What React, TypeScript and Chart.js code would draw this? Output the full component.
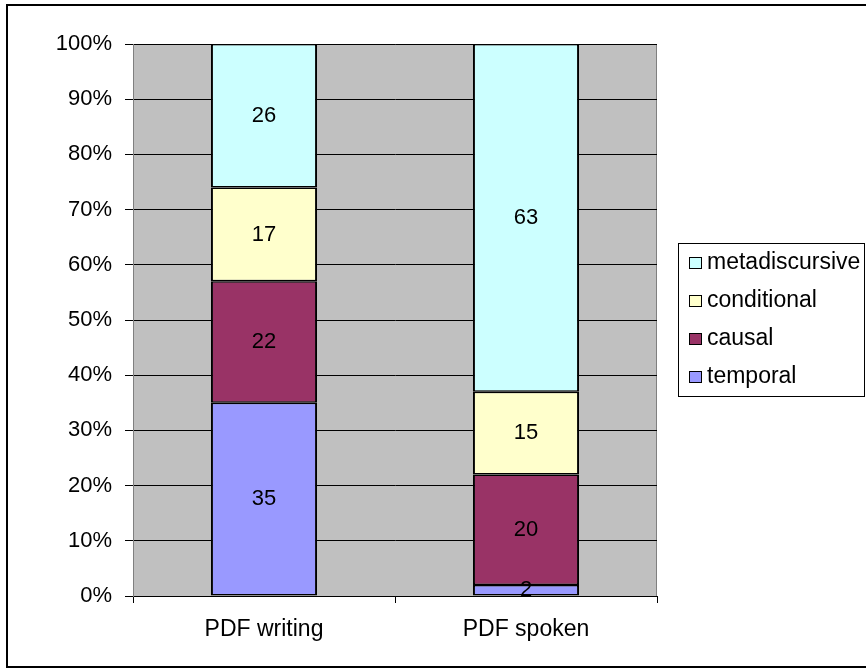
import React, { useEffect, useRef } from 'react';
import { Chart, registerables } from 'chart.js';

Chart.register(...registerables);

const categories = ['PDF writing', 'PDF spoken'];
const seriesNames = ['temporal', 'causal', 'conditional', 'metadiscursive'];
const temporal = [35, 2];
const causal = [22, 20];
const conditional = [17, 15];
const metadiscursive = [26, 63];
const seriesValues = [temporal, causal, conditional, metadiscursive];
const seriesColors = ['#9999FF', '#993366', '#FFFFCC', '#CCFFFF'];
const yMin = 0;
const yMax = 100;
const yStep = 10;

const FONT = '"Liberation Sans", Arial, sans-serif';
const FS = 22;
const FS_BIG = 23;

const framePlugin = {
  id: 'framePlugin',
  beforeDraw(chart: any) {
    const ctx = chart.ctx;
    const a = chart.chartArea;
    ctx.save();
    ctx.fillStyle = '#FFFFFF';
    ctx.fillRect(0, 0, chart.width, chart.height);
    ctx.fillStyle = '#C0C0C0';
    ctx.fillRect(a.left, a.top, a.right - a.left, a.bottom - a.top);
    ctx.strokeStyle = '#808080';
    ctx.lineWidth = 1;
    ctx.strokeRect(a.left + 0.5, a.top + 0.5, a.right - a.left - 1, a.bottom - a.top);
    ctx.strokeStyle = '#000000';
    ctx.lineWidth = 2;
    ctx.strokeRect(7, 5, 900, 662);
    ctx.restore();
  },
};

const labelPlugin = {
  id: 'labelPlugin',
  afterDatasetsDraw(chart: any) {
    const ctx = chart.ctx;
    ctx.save();
    ctx.font = `${FS}px ${FONT}`;
    ctx.fillStyle = '#000000';
    ctx.textAlign = 'center';
    ctx.textBaseline = 'middle';
    chart.data.datasets.forEach((ds: any, i: number) => {
      const meta = chart.getDatasetMeta(i);
      meta.data.forEach((el: any, j: number) => {
        const v = ds.data[j];
        const cy = (el.y + el.base) / 2;
        ctx.fillText(String(v), el.x, cy);
      });
    });
    ctx.restore();
  },
};

const legendPlugin = {
  id: 'legendPlugin',
  afterDraw(chart: any) {
    const ctx = chart.ctx;
    ctx.save();
    const bx = 678.5, by = 243.5, bw = 186, bh = 153;
    ctx.fillStyle = '#FFFFFF';
    ctx.fillRect(bx, by, bw, bh);
    ctx.strokeStyle = '#000000';
    ctx.lineWidth = 1;
    ctx.strokeRect(bx, by, bw, bh);
    ctx.font = `${FS_BIG}px ${FONT}`;
    ctx.textAlign = 'left';
    ctx.textBaseline = 'alphabetic';
    const ds = chart.data.datasets;
    const n = ds.length;
    for (let k = 0; k < n; k++) {
      const d = ds[n - 1 - k];
      const cy = 263 + k * 38;
      ctx.fillStyle = d.backgroundColor;
      ctx.fillRect(689, cy - 5.5, 12, 11);
      ctx.strokeStyle = '#000000';
      ctx.strokeRect(689.5, cy - 5.5, 12, 11);
      ctx.fillStyle = '#000000';
      ctx.fillText(d.label, 707, cy + 6);
    }
    ctx.restore();
  },
};

export default function App() {
  const ref = useRef<HTMLCanvasElement | null>(null);
  useEffect(() => {
    if (!ref.current) return;
    const chart = new Chart(ref.current, {
      type: 'bar',
      data: {
        labels: categories,
        datasets: seriesNames.map((name, i) => ({
          label: name,
          data: seriesValues[i],
          backgroundColor: seriesColors[i],
          borderColor: '#000000',
          borderWidth: { top: 1.5, bottom: 1.5, left: 2, right: 2 },
          borderSkipped: false,
          inflateAmount: 0,
          categoryPercentage: 1,
          barPercentage: 0.405,
        })),
      },
      options: {
        responsive: false,
        animation: false,
        devicePixelRatio: 1,
        layout: { padding: { left: 0, top: 44, right: 209, bottom: 0 } },
        plugins: {
          legend: { display: false },
          tooltip: { enabled: false },
        },
        scales: {
          x: {
            stacked: true,
            afterFit: (s: any) => { s.height = 73; },
            grid: { offset: true, drawOnChartArea: false, drawTicks: true, tickLength: 7, color: '#000000' },
            border: { display: true, color: '#000000' },
            ticks: { color: '#000000', font: { family: FONT, size: FS_BIG }, padding: 13 },
          },
          y: {
            stacked: true,
            min: yMin,
            max: yMax,
            afterFit: (s: any) => { s.width = 133; },
            grid: { color: '#000000', tickLength: 8, drawTicks: true },
            border: { display: true, color: '#808080' },
            ticks: {
              stepSize: yStep,
              color: '#000000',
              font: { family: FONT, size: FS },
              padding: 13,
              callback: (v: any) => `${v}%`,
            },
          },
        },
      },
      plugins: [framePlugin, labelPlugin, legendPlugin],
    });
    return () => chart.destroy();
  }, []);
  return (
    <div style={{ position: 'fixed', left: 0, top: 0, width: 866, height: 669, background: '#fff' }}>
      <canvas ref={ref} width={866} height={669} style={{ width: 866, height: 669, display: 'block' }} />
    </div>
  );
}
